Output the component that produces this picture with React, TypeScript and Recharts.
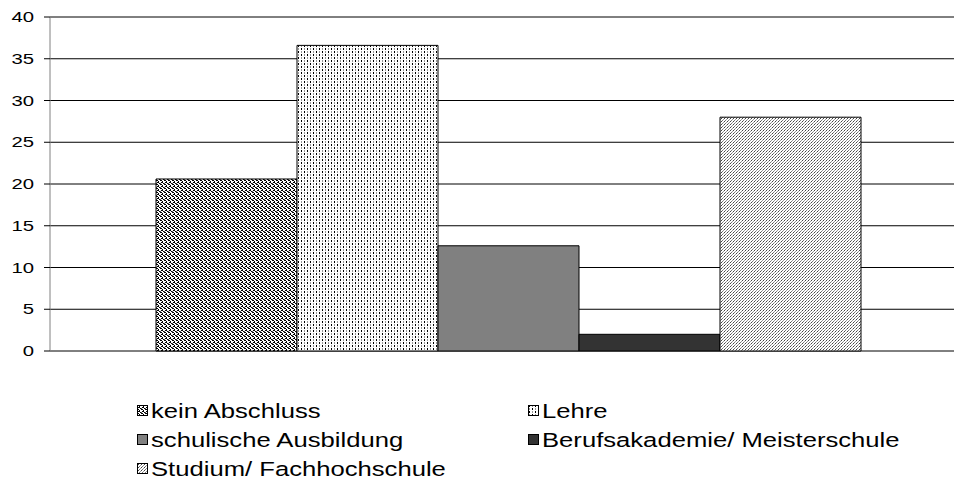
import React from 'react'
import { BarChart, Bar, XAxis, YAxis, CartesianGrid, ReferenceLine } from 'recharts'

// ── data ─────────────────────────────────────────────────────────────────────

const seriesNames = [
  'kein Abschluss',
  'Lehre',
  'schulische Ausbildung',
  'Berufsakademie/ Meisterschule',
  'Studium/ Fachhochschule',
]
const seriesValues = [20.6, 36.6, 12.6, 2.0, 28.0]
const yTicks = [0, 5, 10, 15, 20, 25, 30, 35, 40]

const fills = [
  'url(#pat-kein)',
  'url(#pat-lehre)',
  '#808080',
  '#333333',
  'url(#pat-studium)',
]

const keys = seriesNames.map((_, i) => `s${i}`)
const chartData = [
  Object.fromEntries([['name', ''], ...keys.map((k, i) => [k, seriesValues[i]])]),
]

const FONT = '"Liberation Sans", Arial, sans-serif'

// ── patterns (in a separate hidden svg so ids are available to the chart) ──

function PatternDefs() {
  return (
    <svg width={0} height={0} style={{ position: 'absolute' }}>
      <defs>
        <pattern id="pat-kein" width={4} height={4} patternUnits="userSpaceOnUse">
          <rect width={4} height={4} fill="#fff" />
          <rect x={0} y={0} width={2} height={1} fill="#000" />
          <rect x={2} y={1} width={1} height={1} fill="#000" />
          <rect x={1} y={2} width={2} height={1} fill="#000" />
          <rect x={3} y={3} width={1} height={1} fill="#000" />
          <rect x={0} y={3} width={1} height={1} fill="#555" />
        </pattern>
        <pattern id="pat-lehre" width={6} height={6} patternUnits="userSpaceOnUse">
          <rect width={6} height={6} fill="#fff" />
          <rect x={1} y={0} width={1} height={2} fill="#000" />
          <rect x={4} y={0} width={1} height={2} fill="#999" />
          <rect x={4} y={3} width={1} height={2} fill="#000" />
          <rect x={1} y={3} width={1} height={2} fill="#999" />
        </pattern>
        <pattern id="pat-studium" width={3} height={3} patternUnits="userSpaceOnUse">
          <rect width={3} height={3} fill="#fff" />
          <rect x={2} y={0} width={1} height={1} fill="#777" />
          <rect x={1} y={1} width={1} height={1} fill="#444" />
          <rect x={0} y={2} width={1} height={1} fill="#999" />
        </pattern>
      </defs>
    </svg>
  )
}

function YTick(props: any) {
  const { x, y, payload } = props
  return (
    <g transform={`translate(${x - 8},${y})`}>
      <text
        x={0}
        y={0}
        dy={5}
        textAnchor="end"
        fontFamily={FONT}
        fontSize={14.5}
        fill="#000"
        transform="scale(1.4,1)"
      >
        {payload.value}
      </text>
    </g>
  )
}

function LegendItem({ name, fill, left, top }: { name: string; fill: string; left: number; top: number }) {
  return (
    <div style={{ position: 'absolute', left, top, height: 22, display: 'flex', alignItems: 'center' }}>
      <svg width={12} height={12} style={{ marginRight: 2 }}>
        <rect x={0.5} y={0.5} width={10} height={10} fill={fill} stroke="#000" />
      </svg>
      <span
        style={{
          fontFamily: FONT,
          fontSize: 20.5,
          color: '#000',
          display: 'inline-block',
          transform: 'scaleX(1.25)',
          transformOrigin: 'left center',
          whiteSpace: 'nowrap',
        }}
      >
        {name}
      </span>
    </div>
  )
}

const legendPos = [
  { left: 137, top: 400 },
  { left: 528, top: 400 },
  { left: 137, top: 429 },
  { left: 528, top: 429 },
  { left: 137, top: 458 },
]

export default function App() {
  return (
    <div
      style={{
        position: 'absolute',
        left: 0,
        top: 0,
        width: 954,
        height: 491,
        overflow: 'hidden',
        background: '#fff',
      }}
    >
      <PatternDefs />
      <BarChart
        width={965}
        height={370}
        data={chartData}
        margin={{ top: 17, right: 0, left: 0, bottom: 19 }}
        barCategoryGap={106}
        barGap={0}
      >
        <CartesianGrid vertical={false} stroke="#000" />
        <XAxis dataKey="name" hide height={0} />
        <YAxis
          width={50}
          domain={[0, 40]}
          ticks={yTicks}
          interval={0}
          tickSize={6}
          tick={<YTick />}
          axisLine={{ stroke: '#808080' }}
          tickLine={{ stroke: '#000' }}
        />
        <ReferenceLine y={40} stroke="#808080" />
        {keys.map((k, i) => (
          <Bar
            key={k}
            dataKey={k}
            name={seriesNames[i]}
            fill={fills[i]}
            stroke="#000"
            strokeWidth={1}
            isAnimationActive={false}
          />
        ))}
      </BarChart>
      {seriesNames.map((n, i) => (
        <LegendItem key={n} name={n} fill={fills[i]} left={legendPos[i].left} top={legendPos[i].top} />
      ))}
    </div>
  )
}
